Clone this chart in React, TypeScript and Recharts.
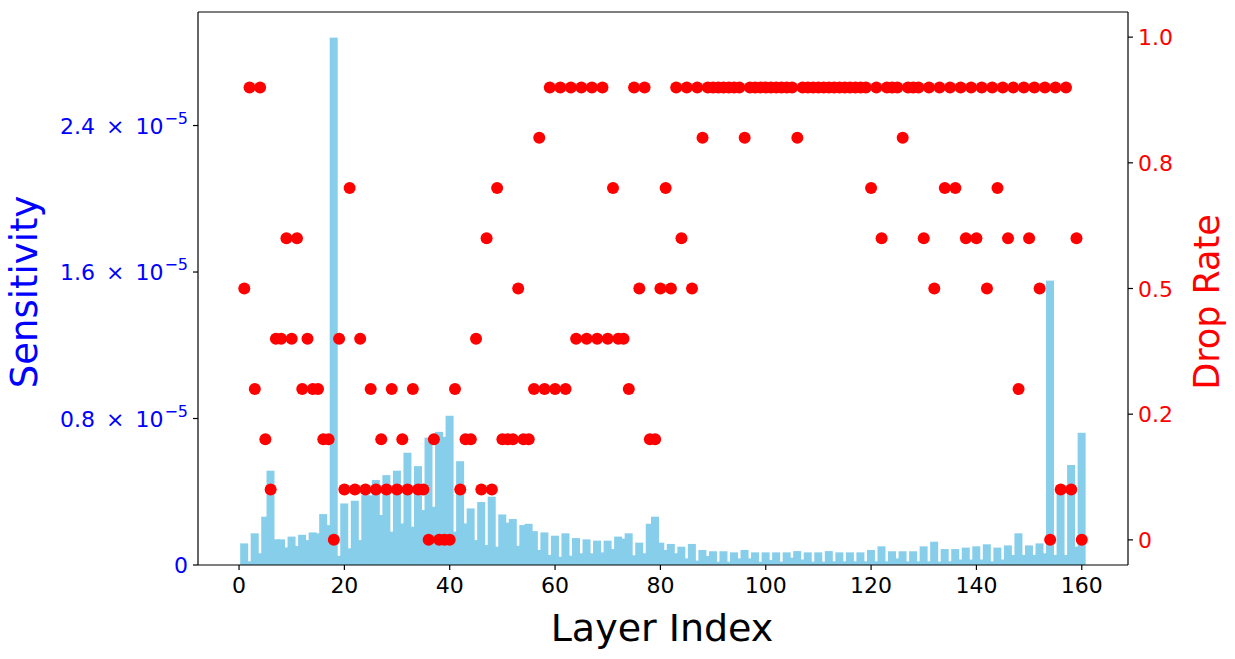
import React from 'react';
import { ComposedChart, Bar, Scatter, XAxis, YAxis, ReferenceLine } from 'recharts';

const FONT = '"DejaVu Sans", Verdana, sans-serif';

// layer index 0..160
const layers = [
  0, 1, 2, 3, 4, 5, 6, 7, 8, 9, 10, 11, 12, 13, 14, 15, 16, 17, 18, 19,
  20, 21, 22, 23, 24, 25, 26, 27, 28, 29, 30, 31, 32, 33, 34, 35, 36, 37, 38, 39,
  40, 41, 42, 43, 44, 45, 46, 47, 48, 49, 50, 51, 52, 53, 54, 55, 56, 57, 58, 59,
  60, 61, 62, 63, 64, 65, 66, 67, 68, 69, 70, 71, 72, 73, 74, 75, 76, 77, 78, 79,
  80, 81, 82, 83, 84, 85, 86, 87, 88, 89, 90, 91, 92, 93, 94, 95, 96, 97, 98, 99,
  100, 101, 102, 103, 104, 105, 106, 107, 108, 109, 110, 111, 112, 113, 114, 115, 116, 117, 118, 119,
  120, 121, 122, 123, 124, 125, 126, 127, 128, 129, 130, 131, 132, 133, 134, 135, 136, 137, 138, 139,
  140, 141, 142, 143, 144, 145, 146, 147, 148, 149, 150, 151, 152, 153, 154, 155, 156, 157, 158, 159,
  160,
];

// sensitivity, in units of 1e-5
const sensitivity = [
  null, 0.118, 0.02, 0.173, 0.064, 0.264, 0.515, 0.14, 0.14, 0.096,
  0.155, 0.104, 0.165, 0.136, 0.178, 0.173, 0.278, 0.218, 2.88, 0.05,
  0.336, 0.091, 0.351, 0.136, 0.382, 0.38, 0.464, 0.273, 0.491, 0.182,
  0.515, 0.227, 0.613, 0.209, 0.54, 0.3, 0.696, 0.318, 0.727, 0.7,
  0.815, 0.182, 0.567, 0.227, 0.309, 0.136, 0.344, 0.109, 0.373, 0.1,
  0.276, 0.231, 0.251, 0.105, 0.218, 0.225, 0.185, 0.082, 0.178, 0.055,
  0.16, 0.045, 0.173, 0.051, 0.147, 0.064, 0.14, 0.064, 0.133, 0.069,
  0.133, 0.087, 0.155, 0.144, 0.173, 0.053, 0.122, 0.064, 0.225, 0.264,
  0.122, 0.082, 0.115, 0.064, 0.1, 0.036, 0.115, 0.024, 0.082, 0.049,
  0.075, 0.018, 0.075, 0.018, 0.069, 0.036, 0.082, 0.036, 0.069, 0.018,
  0.069, 0.027, 0.069, 0.018, 0.069, 0.04, 0.076, 0.03, 0.069, 0.018,
  0.069, 0.018, 0.076, 0.02, 0.069, 0.02, 0.069, 0.02, 0.069, 0.02,
  0.082, 0.02, 0.102, 0.02, 0.075, 0.036, 0.075, 0.02, 0.075, 0.02,
  0.102, 0.02, 0.127, 0.018, 0.087, 0.02, 0.087, 0.03, 0.095, 0.03,
  0.102, 0.03, 0.113, 0.02, 0.095, 0.03, 0.107, 0.055, 0.173, 0.055,
  0.107, 0.055, 0.118, 0.064, 1.553, 0.055, 0.436, 0.055, 0.546, 0.1,
  0.722,
];

const dropRate = [
  null, 0.5, 0.9, 0.3, 0.9, 0.2, 0.1, 0.4, 0.4, 0.6,
  0.4, 0.6, 0.3, 0.4, 0.3, 0.3, 0.2, 0.2, 0.0, 0.4,
  0.1, 0.7, 0.1, 0.4, 0.1, 0.3, 0.1, 0.2, 0.1, 0.3,
  0.1, 0.2, 0.1, 0.3, 0.1, 0.1, 0.0, 0.2, 0.0, 0.0,
  0.0, 0.3, 0.1, 0.2, 0.2, 0.4, 0.1, 0.6, 0.1, 0.7,
  0.2, 0.2, 0.2, 0.5, 0.2, 0.2, 0.3, 0.8, 0.3, 0.9,
  0.3, 0.9, 0.3, 0.9, 0.4, 0.9, 0.4, 0.9, 0.4, 0.9,
  0.4, 0.7, 0.4, 0.4, 0.3, 0.9, 0.5, 0.9, 0.2, 0.2,
  0.5, 0.7, 0.5, 0.9, 0.6, 0.9, 0.5, 0.9, 0.8, 0.9,
  0.9, 0.9, 0.9, 0.9, 0.9, 0.9, 0.8, 0.9, 0.9, 0.9,
  0.9, 0.9, 0.9, 0.9, 0.9, 0.9, 0.8, 0.9, 0.9, 0.9,
  0.9, 0.9, 0.9, 0.9, 0.9, 0.9, 0.9, 0.9, 0.9, 0.9,
  0.7, 0.9, 0.6, 0.9, 0.9, 0.9, 0.8, 0.9, 0.9, 0.9,
  0.6, 0.9, 0.5, 0.9, 0.7, 0.9, 0.7, 0.9, 0.6, 0.9,
  0.6, 0.9, 0.5, 0.9, 0.7, 0.9, 0.6, 0.9, 0.3, 0.9,
  0.6, 0.9, 0.5, 0.9, 0.0, 0.9, 0.1, 0.9, 0.1, 0.6,
  0.0,
];

const leftTicks = [0, 0.8, 1.6, 2.4];
const leftTickLabels = ['0', '0.8', '1.6', '2.4'];
const rightTicks = [0, 0.25, 0.5, 0.75, 1.0];
const rightTickLabels = ['0', '0.2', '0.5', '0.8', '1.0'];

const data = layers.map((layer, i) => ({ layer, sens: sensitivity[i], drop: dropRate[i] }));

const BAR_COLOR = '#87ceeb';
const TICK_FS = 22;

// bars are drawn 1.6 slots wide, so neighbours overlap like in the original
const BarShape = (props: any) => {
  const { x, y, width, height, payload } = props;
  if (payload == null || payload.sens == null || !height) return <g />;
  const cx = x + width / 2;
  const w = width * 1.6;
  return <rect x={cx - w / 2} y={y} width={w} height={height} fill={BAR_COLOR} />;
};

const DotShape = (props: any) => {
  const { cx, cy, payload } = props;
  if (payload == null || payload.drop == null) return <g />;
  return <circle cx={cx} cy={cy} r={6} fill="#ff0000" />;
};

const LeftTick = (props: any) => {
  const { x, y, payload } = props;
  const idx = leftTicks.indexOf(payload.value);
  const label = leftTickLabels[idx];
  if (payload.value === 0) {
    return (
      <text x={x} y={y} dy={8} textAnchor="end" fill="#0000ff" fontSize={TICK_FS} fontFamily={FONT}>
        {label}
      </text>
    );
  }
  return (
    <text x={x} y={y} dy={8} textAnchor="end" fill="#0000ff" fontSize={TICK_FS} fontFamily={FONT}>
      {label}
      <tspan dx={11}>×</tspan>
      <tspan dx={11}>10</tspan>
      <tspan dx={1} dy={-10} fontSize={16}>−5</tspan>
    </text>
  );
};

const RightTick = (props: any) => {
  const { x, y, payload } = props;
  const idx = rightTicks.indexOf(payload.value);
  return (
    <text x={x} y={y} dy={8} textAnchor="start" fill="#ff0000" fontSize={TICK_FS} fontFamily={FONT}>
      {rightTickLabels[idx]}
    </text>
  );
};

export default function App() {
  return (
    <div style={{ position: 'absolute', left: 0, top: 0, width: 1235, height: 659, background: '#fff', fontFamily: FONT }}>
      <ComposedChart
        width={1235}
        height={659}
        data={data}
        margin={{ top: 12, right: 0, bottom: 0, left: 0 }}
        barCategoryGap={0}
        barGap={0}
      >
        <XAxis
          dataKey="layer"
          type="category"
          height={94}
          interval={19}
          padding={{ left: 38.4, right: 43.6 }}
          tickSize={5}
          tickMargin={7}
          tick={{ fill: '#000', fontSize: TICK_FS, fontFamily: FONT }}
          tickLine={{ stroke: '#000', strokeWidth: 1.2 }}
          axisLine={{ stroke: '#000', strokeWidth: 1.2 }}
        />
        <YAxis
          yAxisId="left"
          orientation="left"
          type="number"
          width={198}
          domain={[0, 3.02]}
          ticks={leftTicks}
          allowDataOverflow
          tickSize={5}
          tickMargin={5}
          tick={<LeftTick />}
          tickLine={{ stroke: '#000', strokeWidth: 1.2 }}
          axisLine={{ stroke: '#000', strokeWidth: 1.2 }}
        />
        <YAxis
          yAxisId="right"
          orientation="right"
          type="number"
          width={107}
          domain={[-0.05, 1.05]}
          ticks={rightTicks}
          allowDataOverflow
          tickSize={5}
          tickMargin={5}
          tick={<RightTick />}
          tickLine={{ stroke: '#000', strokeWidth: 1.2 }}
          axisLine={{ stroke: '#000', strokeWidth: 1.2 }}
        />
        <ReferenceLine yAxisId="left" y={3.02} stroke="#000" strokeWidth={1.2} />
        <Bar yAxisId="left" dataKey="sens" fill={BAR_COLOR} isAnimationActive={false} shape={BarShape} />
        <Scatter yAxisId="right" dataKey="drop" fill="#ff0000" isAnimationActive={false} shape={DotShape} />
      </ComposedChart>
      <div
        style={{
          position: 'absolute', left: 24, top: 292, transform: 'translate(-50%, -50%) rotate(-90deg)',
          color: '#0000ff', fontSize: 37, whiteSpace: 'nowrap', lineHeight: 1,
        }}
      >
        Sensitivity
      </div>
      <div
        style={{
          position: 'absolute', left: 1207, top: 302, transform: 'translate(-50%, -50%) rotate(-90deg)',
          color: '#ff0000', fontSize: 35, whiteSpace: 'nowrap', lineHeight: 1,
        }}
      >
        Drop Rate
      </div>
      <div
        style={{
          position: 'absolute', left: 662, top: 628, transform: 'translate(-50%, -50%)',
          color: '#000', fontSize: 38, whiteSpace: 'nowrap', lineHeight: 1,
        }}
      >
        Layer Index
      </div>
    </div>
  );
}
